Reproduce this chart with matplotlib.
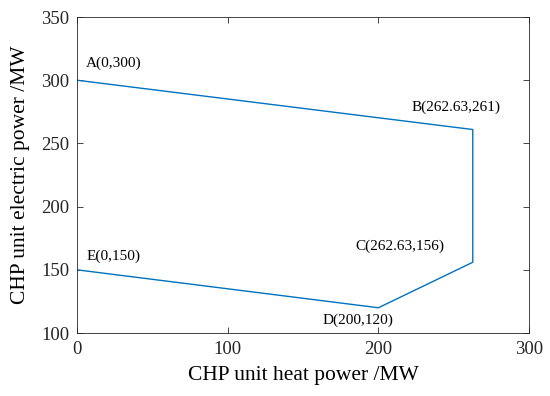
import matplotlib
matplotlib.use("Agg")
import matplotlib.pyplot as plt

# feasible region vertices (closed polygon order A-B-C-D-E)
heat = [0, 262.63, 262.63, 200, 0]
elec = [300, 261, 156, 120, 150]
labels = ["A(0,300)", "B(262.63,261)", "C(262.63,156)", "D(200,120)", "E(0,150)"]
label_x = [6, 222, 184.5, 163, 6]
label_y = [313.5, 279, 168.5, 110.5, 161]

plt.rcParams["font.family"] = ["Liberation Serif", "DejaVu Serif"]

fig = plt.figure(figsize=(5.5, 3.96), dpi=100)
ax = fig.add_axes([0.14, 0.159, 0.822, 0.798])
ax.plot(heat, elec, color="#0072BD", linewidth=1.0)

for x, y, t in zip(label_x, label_y, labels):
    ax.text(x, y, t, fontsize=11, ha="left", va="center")

ax.set_xlim(0, 300)
ax.set_ylim(100, 350)
ax.set_xticks([0, 100, 200, 300])
ax.set_yticks([100, 150, 200, 250, 300, 350])
ax.tick_params(direction="in", top=True, right=True, labelsize=13.5, colors="#262626",
               length=4, width=0.6, pad=5.5)
for s in ax.spines.values():
    s.set_color("#262626")
    s.set_linewidth(0.6)
ax.set_xlabel("CHP unit heat power /MW", fontsize=15.5, va="center")
ax.set_ylabel("CHP unit electric power /MW", fontsize=15.5, va="center")
ax.xaxis.set_label_coords(0.5, -0.133)
ax.yaxis.set_label_coords(-0.126, 0.5)

fig.savefig("out.png", dpi=100)
